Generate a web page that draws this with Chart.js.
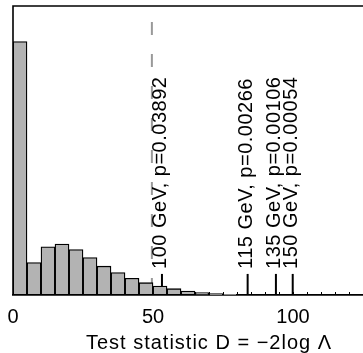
<!DOCTYPE html>
<html>
<head>
<meta charset="utf-8">
<script src="https://cdn.jsdelivr.net/npm/chart.js@4/dist/chart.umd.min.js"></script>
<style>
    html, body { margin: 0; padding: 0; background: #fff; overflow: hidden; }
    #wrap { width: 405px; height: 353px; }
</style>
</head>
<body>
<div id="wrap"><canvas id="testStat"></canvas></div>
<script>
// histogram of D under the null hypothesis, bins of width 5
const binStarts = [0, 5, 10, 15, 20, 25, 30, 35, 40, 45, 50, 55, 60, 65, 70, 75];
const binCounts = [252.5, 32.3, 48, 50.7, 45.3, 37.3, 28.7, 22.3, 16.7, 12.3, 9, 6.3, 4, 2.3, 1.3, 0.7];

// observed values of D for each mass hypothesis
const massLabels = ["100 GeV, p=0.03892", "115 GeV, p=0.00266", "135 GeV, p=0.00106", "150 GeV, p=0.00054"];
const massStats = [53.2, 83.8, 93.9, 99.9];
const markerHeight = 21;
const labelStart = 26;

// dashed reference line
const cutStat = 49.6;
const cutHeight = 272;

const tickValues = [0, 50, 100];
const axisTitle = "Test statistic D = \u22122log \u039B";

const FONT = "'Liberation Sans', Arial, Helvetica, sans-serif";

const decorations = {
    id: "decorations",
    beforeDatasetsDraw(chart) {
        const { ctx, chartArea, scales } = chart;
        // small inner ticks along the bottom axis
        ctx.save();
        ctx.strokeStyle = "#000";
        ctx.lineWidth = 1;
        for (let v = 0; v <= scales.x.max; v += 5) {
            const px = Math.round(scales.x.getPixelForValue(v)) + 0.5;
            ctx.beginPath();
            ctx.moveTo(px, chartArea.bottom);
            ctx.lineTo(px, chartArea.bottom - 3);
            ctx.stroke();
        }
        ctx.restore();
    },
    afterDatasetsDraw(chart) {
        const { ctx, chartArea, scales } = chart;
        ctx.save();
        // frame: left and top
        ctx.strokeStyle = "#000";
        ctx.lineWidth = 1.6;
        ctx.beginPath();
        ctx.moveTo(chartArea.left, chartArea.bottom);
        ctx.lineTo(chartArea.left, chartArea.top);
        ctx.lineTo(chartArea.right, chartArea.top);
        ctx.stroke();

        // rotated mass labels
        ctx.fillStyle = "#000";
        ctx.font = "20px " + FONT;
        ctx.letterSpacing = "0.5px";
        ctx.textAlign = "left";
        ctx.textBaseline = "middle";
        massStats.forEach((d, i) => {
            const px = scales.x.getPixelForValue(d) - 1;
            const py = scales.y.getPixelForValue(labelStart);
            ctx.save();
            ctx.translate(px, py);
            ctx.rotate(-Math.PI / 2);
            ctx.fillText(massLabels[i], 0, 0);
            ctx.restore();
        });

        // axis title
        ctx.letterSpacing = "1px";
        ctx.textAlign = "center";
        ctx.fillText(axisTitle, (chartArea.left + chartArea.right) / 2, 343);
        ctx.restore();
    },
};

const markerSets = massStats.map((d) => ({
    type: "line",
    data: [{ x: d, y: 0 }, { x: d, y: markerHeight }],
    borderColor: "#000",
    borderWidth: 2,
    pointRadius: 0,
}));

new Chart(document.getElementById("testStat"), {
    type: "bar",
    data: {
        datasets: [
            {
                data: binStarts.map((s, i) => ({ x: s + 2.5, y: binCounts[i] })),
                backgroundColor: "#b3b3b3",
                borderColor: "#000",
                borderWidth: 1.3,
                borderSkipped: false,
                barPercentage: 1,
                categoryPercentage: 1,
            },
            {
                type: "line",
                data: [{ x: cutStat, y: cutHeight }, { x: cutStat, y: 0 }],
                borderColor: "#999999",
                borderWidth: 2,
                borderDash: [13, 19],
                pointRadius: 0,
            },
            ...markerSets,
        ],
    },
    plugins: [decorations],
    options: {
        responsive: true,
        maintainAspectRatio: false,
        animation: false,
        layout: { padding: { left: 13, top: 6, right: 0, bottom: 22 } },
        plugins: {
            legend: { display: false },
            tooltip: { enabled: false },
        },
        scales: {
            x: {
                type: "linear",
                min: 0,
                max: 140,
                offset: false,
                grid: { display: false },
                border: { display: true, color: "#000", width: 1.8 },
                afterBuildTicks: (scale) => {
                    scale.ticks = tickValues.map((v) => ({ value: v }));
                },
                ticks: {
                    padding: 2,
                    maxRotation: 0,
                    color: "#000",
                    font: { family: FONT, size: 20 },
                },
            },
            y: {
                display: false,
                min: 0,
                max: 288,
            },
        },
    },
});
</script>
</body>
</html>
